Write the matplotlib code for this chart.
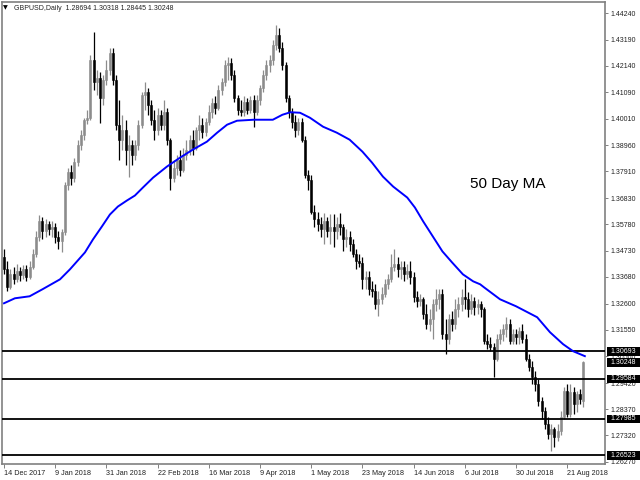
import matplotlib
matplotlib.use("Agg")
from matplotlib import pyplot as plt
from matplotlib import transforms
from matplotlib.patches import Rectangle

symbol_title = "GBPUSD,Daily  1.28694 1.30318 1.28445 1.30248"

date_labels = ["14 Dec 2017", "9 Jan 2018", "31 Jan 2018", "22 Feb 2018", "16 Mar 2018",
               "9 Apr 2018", "1 May 2018", "23 May 2018", "14 Jun 2018", "6 Jul 2018",
               "30 Jul 2018", "21 Aug 2018"]
date_label_bars = [0, 16, 32, 48, 64, 80, 96, 112, 128, 144, 160, 176]

opens = [1.3446, 1.3398, 1.3326, 1.3378, 1.3358, 1.3390, 1.3374, 1.3398, 1.3366, 1.3406,
         1.3458, 1.3526, 1.3590, 1.3550, 1.3578, 1.3558, 1.3566, 1.3526, 1.3510, 1.3546,
         1.3738, 1.3790, 1.3766, 1.3830, 1.3898, 1.3938, 1.3998, 1.4006, 1.4238, 1.4150,
         1.4166, 1.4086, 1.4158, 1.4198, 1.4266, 1.4158, 1.3978, 1.3918, 1.3958, 1.3878,
         1.3898, 1.3858, 1.3898, 1.3978, 1.4098, 1.4110, 1.4058, 1.3998, 1.3958, 1.4018,
         1.3978, 1.4030, 1.3918, 1.3766, 1.3806, 1.3838, 1.3798, 1.3858, 1.3878, 1.3918,
         1.3886, 1.3958, 1.3978, 1.3950, 1.3990, 1.4030, 1.4066, 1.4046, 1.4118, 1.4150,
         1.4218, 1.4226, 1.4178, 1.4086, 1.4038, 1.4030, 1.4070, 1.4038, 1.4078, 1.4030,
         1.4078, 1.4126, 1.4178, 1.4218, 1.4238, 1.4298, 1.4338, 1.4286, 1.4218, 1.4086,
         1.4030, 1.3990, 1.3958, 1.3990, 1.3918, 1.3778, 1.3758, 1.3630, 1.3598, 1.3578,
         1.3558, 1.3590, 1.3550, 1.3566, 1.3550, 1.3578, 1.3566, 1.3518, 1.3526, 1.3498,
         1.3458, 1.3430, 1.3422, 1.3358, 1.3366, 1.3318, 1.3310, 1.3258, 1.3278, 1.3298,
         1.3338, 1.3358, 1.3406, 1.3418, 1.3398, 1.3406, 1.3378, 1.3390, 1.3366, 1.3286,
         1.3270, 1.3278, 1.3218, 1.3178, 1.3198, 1.3258, 1.3278, 1.3298, 1.3138, 1.3118,
         1.3198, 1.3178, 1.3238, 1.3258, 1.3286, 1.3278, 1.3238, 1.3270, 1.3246, 1.3258,
         1.3238, 1.3110, 1.3098, 1.3086, 1.3038, 1.3118, 1.3138, 1.3158, 1.3178, 1.3110,
         1.3138, 1.3126, 1.3150, 1.3118, 1.3038, 1.3006, 1.2966, 1.2938, 1.2870, 1.2830,
         1.2778, 1.2738, 1.2758, 1.2726, 1.2750, 1.2806, 1.2910, 1.2818, 1.2906, 1.2858,
         1.2898, 1.28694]

highs = [1.3478, 1.3430, 1.3398, 1.3406, 1.3418, 1.3406, 1.3414, 1.3414, 1.3430, 1.3478,
         1.3550, 1.3614, 1.3606, 1.3598, 1.3590, 1.3590, 1.3582, 1.3550, 1.3558, 1.3750,
         1.3806, 1.3818, 1.3846, 1.3918, 1.3958, 1.4006, 1.4038, 1.4258, 1.4350, 1.4198,
         1.4190, 1.4178, 1.4238, 1.4286, 1.4286, 1.4178, 1.4078, 1.4018, 1.3998, 1.3938,
         1.3918, 1.3918, 1.3998, 1.4110, 1.4150, 1.4126, 1.4078, 1.4038, 1.4046, 1.4038,
         1.4078, 1.4046, 1.3926, 1.3838, 1.3858, 1.3878, 1.3886, 1.3918, 1.3938, 1.3958,
         1.3970, 1.4018, 1.4006, 1.4006, 1.4058, 1.4086, 1.4094, 1.4138, 1.4166, 1.4238,
         1.4250, 1.4246, 1.4198, 1.4098, 1.4078, 1.4094, 1.4086, 1.4094, 1.4098, 1.4098,
         1.4138, 1.4198, 1.4238, 1.4258, 1.4318, 1.4378, 1.4366, 1.4310, 1.4230, 1.4098,
         1.4046, 1.4018, 1.4006, 1.4006, 1.3934, 1.3798, 1.3778, 1.3658, 1.3630, 1.3606,
         1.3622, 1.3606, 1.3618, 1.3618, 1.3606, 1.3622, 1.3578, 1.3558, 1.3550, 1.3518,
         1.3478, 1.3458, 1.3446, 1.3390, 1.3390, 1.3350, 1.3338, 1.3310, 1.3326, 1.3358,
         1.3378, 1.3458, 1.3478, 1.3446, 1.3430, 1.3430, 1.3418, 1.3430, 1.3386, 1.3310,
         1.3298, 1.3286, 1.3258, 1.3238, 1.3278, 1.3318, 1.3318, 1.3318, 1.3198, 1.3218,
         1.3230, 1.3278, 1.3286, 1.3318, 1.3358, 1.3306, 1.3298, 1.3286, 1.3278, 1.3270,
         1.3246, 1.3138, 1.3126, 1.3102, 1.3138, 1.3158, 1.3178, 1.3206, 1.3198, 1.3158,
         1.3158, 1.3166, 1.3178, 1.3138, 1.3058, 1.3030, 1.2990, 1.2958, 1.2886, 1.2846,
         1.2806, 1.2778, 1.2766, 1.2778, 1.2830, 1.2926, 1.2938, 1.2938, 1.2926, 1.2910,
         1.2918, 1.30318]

lows = [1.3378, 1.3310, 1.3318, 1.3338, 1.3346, 1.3350, 1.3358, 1.3350, 1.3358, 1.3398,
        1.3446, 1.3510, 1.3518, 1.3526, 1.3534, 1.3526, 1.3502, 1.3478, 1.3466, 1.3534,
        1.3718, 1.3738, 1.3750, 1.3814, 1.3878, 1.3918, 1.3982, 1.3998, 1.4118, 1.4098,
        1.3986, 1.4058, 1.4138, 1.4178, 1.4138, 1.3958, 1.3838, 1.3878, 1.3818, 1.3770,
        1.3818, 1.3838, 1.3878, 1.3966, 1.4038, 1.4018, 1.3978, 1.3918, 1.3938, 1.3958,
        1.3958, 1.3898, 1.3718, 1.3750, 1.3778, 1.3774, 1.3790, 1.3838, 1.3858, 1.3858,
        1.3878, 1.3918, 1.3926, 1.3934, 1.3978, 1.4006, 1.4022, 1.4038, 1.4098, 1.4134,
        1.4158, 1.4158, 1.4070, 1.4018, 1.4014, 1.4014, 1.4022, 1.4026, 1.3970, 1.4018,
        1.4058, 1.4110, 1.4158, 1.4190, 1.4218, 1.4278, 1.4270, 1.4198, 1.4070, 1.4006,
        1.3966, 1.3930, 1.3938, 1.3910, 1.3766, 1.3718, 1.3618, 1.3566, 1.3550, 1.3526,
        1.3498, 1.3526, 1.3498, 1.3486, 1.3518, 1.3534, 1.3470, 1.3486, 1.3470, 1.3446,
        1.3398, 1.3406, 1.3318, 1.3318, 1.3294, 1.3286, 1.3238, 1.3210, 1.3258, 1.3286,
        1.3318, 1.3346, 1.3390, 1.3366, 1.3358, 1.3350, 1.3358, 1.3338, 1.3266, 1.3246,
        1.3250, 1.3198, 1.3158, 1.3150, 1.3118, 1.3230, 1.3238, 1.3118, 1.3058, 1.3098,
        1.3150, 1.3158, 1.3206, 1.3230, 1.3238, 1.3206, 1.3218, 1.3214, 1.3218, 1.3206,
        1.3098, 1.3078, 1.3070, 1.2966, 1.3030, 1.3098, 1.3110, 1.3126, 1.3098, 1.3098,
        1.3098, 1.3098, 1.3102, 1.3030, 1.2990, 1.2938, 1.2910, 1.2850, 1.2798, 1.2758,
        1.2718, 1.2670, 1.2686, 1.2710, 1.2734, 1.2798, 1.2806, 1.2806, 1.2818, 1.2826,
        1.2858, 1.28445]

closes = [1.3398, 1.3326, 1.3378, 1.3358, 1.3390, 1.3374, 1.3398, 1.3366, 1.3406, 1.3458,
          1.3526, 1.3590, 1.3550, 1.3578, 1.3558, 1.3566, 1.3526, 1.3510, 1.3546, 1.3738,
          1.3790, 1.3766, 1.3830, 1.3898, 1.3938, 1.3998, 1.4006, 1.4238, 1.4150, 1.4166,
          1.4086, 1.4158, 1.4198, 1.4266, 1.4158, 1.3978, 1.3918, 1.3958, 1.3878, 1.3898,
          1.3858, 1.3898, 1.3978, 1.4098, 1.4110, 1.4058, 1.3998, 1.3958, 1.4018, 1.3978,
          1.4030, 1.3918, 1.3766, 1.3806, 1.3838, 1.3798, 1.3858, 1.3878, 1.3918, 1.3886,
          1.3958, 1.3978, 1.3950, 1.3990, 1.4030, 1.4066, 1.4046, 1.4118, 1.4150, 1.4218,
          1.4226, 1.4178, 1.4086, 1.4038, 1.4030, 1.4070, 1.4038, 1.4078, 1.4030, 1.4078,
          1.4126, 1.4178, 1.4218, 1.4238, 1.4298, 1.4338, 1.4286, 1.4218, 1.4086, 1.4030,
          1.3990, 1.3958, 1.3990, 1.3918, 1.3778, 1.3758, 1.3630, 1.3598, 1.3578, 1.3558,
          1.3590, 1.3550, 1.3566, 1.3550, 1.3578, 1.3566, 1.3518, 1.3526, 1.3498, 1.3458,
          1.3430, 1.3422, 1.3358, 1.3366, 1.3318, 1.3310, 1.3258, 1.3278, 1.3298, 1.3338,
          1.3358, 1.3406, 1.3418, 1.3398, 1.3406, 1.3378, 1.3390, 1.3366, 1.3286, 1.3270,
          1.3278, 1.3218, 1.3178, 1.3198, 1.3258, 1.3278, 1.3298, 1.3138, 1.3118, 1.3198,
          1.3178, 1.3238, 1.3258, 1.3286, 1.3278, 1.3238, 1.3270, 1.3246, 1.3258, 1.3238,
          1.3110, 1.3098, 1.3086, 1.3038, 1.3118, 1.3138, 1.3158, 1.3178, 1.3110, 1.3138,
          1.3126, 1.3150, 1.3118, 1.3038, 1.3006, 1.2966, 1.2938, 1.2870, 1.2830, 1.2778,
          1.2738, 1.2758, 1.2726, 1.2750, 1.2806, 1.2910, 1.2818, 1.2906, 1.2858, 1.2898,
          1.2878, 1.30248]

# 50 day moving average at these bar positions
ma_bars = [0, 3.4, 8, 12, 17.5, 20.6, 25.3, 27.8, 30.6, 33.1, 35.6, 38.4, 40.9, 43.4,
           46.6, 50.9, 55, 59, 63.4, 66.6, 69.7, 72.8, 78, 84, 87, 89.5, 92.5, 95.6, 99.7,
           104, 108, 112, 115, 118.4, 121.6, 126, 128.4, 131, 134, 137, 140, 143.4, 146.6,
           148.8, 150, 155, 160, 166.6, 170.6, 174.7, 177.8, 181.5]
ma_values = [1.3262, 1.3282, 1.3290, 1.3318, 1.3358, 1.3398, 1.3466, 1.3518, 1.3570, 1.3618,
             1.3650, 1.3674, 1.3694, 1.3726, 1.3766, 1.3810, 1.3846, 1.3878, 1.3910, 1.3946,
             1.3978, 1.3994, 1.3998, 1.3998, 1.4018, 1.4028, 1.4026, 1.4006, 1.3970, 1.3946,
             1.3918, 1.3870, 1.3826, 1.3770, 1.3730, 1.3686, 1.3646, 1.3590, 1.3530, 1.3470,
             1.3426, 1.3378, 1.3350, 1.3338, 1.3326, 1.3278, 1.3250, 1.3206, 1.3146, 1.3098,
             1.3070, 1.3050]

level_lines = [1.30693, 1.29584, 1.27985, 1.26523]
price_tags = [1.30693, 1.30248, 1.29584, 1.27985, 1.26523]
axis_prices = [1.44240, 1.43190, 1.42140, 1.41090, 1.40010, 1.38960, 1.37910, 1.36830,
               1.35780, 1.34730, 1.33680, 1.32600, 1.31550, 1.30500, 1.29420, 1.28370,
               1.27320, 1.26270]

small_font = ["Liberation Sans", "DejaVu Sans"]
frame_grey = "#808080"
bull_grey = "#8c8c8c"

fig = plt.figure(figsize=(6.4, 4.8), dpi=100)
ax = fig.add_axes([2 / 640, 16 / 480, 603 / 640, 462 / 480])

bars = list(range(len(closes)))
colors = [bull_grey if c >= o else "black" for o, c in zip(opens, closes)]
bottoms = [min(o, c) for o, c in zip(opens, closes)]
heights = [abs(c - o) for o, c in zip(opens, closes)]

ax.vlines(bars, lows, highs, colors=colors, linewidth=0.9, zorder=2)
ax.bar(bars, heights, bottom=bottoms, width=0.62, color=colors, edgecolor=colors,
       linewidth=0.4, zorder=2)

for level in level_lines:
    ax.axhline(level, color="black", linewidth=1.3, zorder=3)

ax.plot(ma_bars, ma_values, color="#0000ff", linewidth=1.4, zorder=4,
        solid_joinstyle="round")

ax.text(145.6, 1.3740, "50 Day MA", fontsize=11, family=small_font, color="black",
        va="center", ha="left")

ax.set_xlim(-0.625, 187.8)
ax.set_ylim(1.26175, 1.44701)

ax.yaxis.tick_right()
ax.set_yticks(axis_prices)
ax.set_yticklabels(["%.5f" % p for p in axis_prices], family=small_font)
ax.set_xticks(date_label_bars)
ax.set_xticklabels(date_labels, family=small_font, ha="left")
ax.tick_params(axis="y", length=2, width=0.7, color=frame_grey, labelsize=5,
               labelcolor="#222222", pad=2)
ax.tick_params(axis="x", length=3, width=0.7, color=frame_grey, labelsize=5.2,
               labelcolor="#222222", pad=1.5)

for spine in ax.spines.values():
    spine.set_color(frame_grey)
    spine.set_linewidth(1.2)

# black price tags on the right scale
tag_trans = transforms.blended_transform_factory(fig.transFigure, ax.transData)
for tag in price_tags:
    ax.add_patch(Rectangle((607 / 640, tag - 0.0017), 33 / 640, 0.0034,
                           transform=tag_trans, facecolor="black", edgecolor="none",
                           clip_on=False, zorder=6))
    ax.text(610 / 640, tag, "%.5f" % tag, transform=tag_trans, fontsize=5,
            family=small_font, color="white", va="center", ha="left", zorder=7,
            clip_on=False)

fig.text(3 / 640, 1 - 8 / 480, "\u25bc", fontsize=4.5, family=["DejaVu Sans"],
         va="center", ha="left", color="black")
fig.text(14 / 640, 1 - 8 / 480, symbol_title, fontsize=5, family=small_font,
         va="center", ha="left", color="#222222")

fig.savefig("out.png", dpi=100)
